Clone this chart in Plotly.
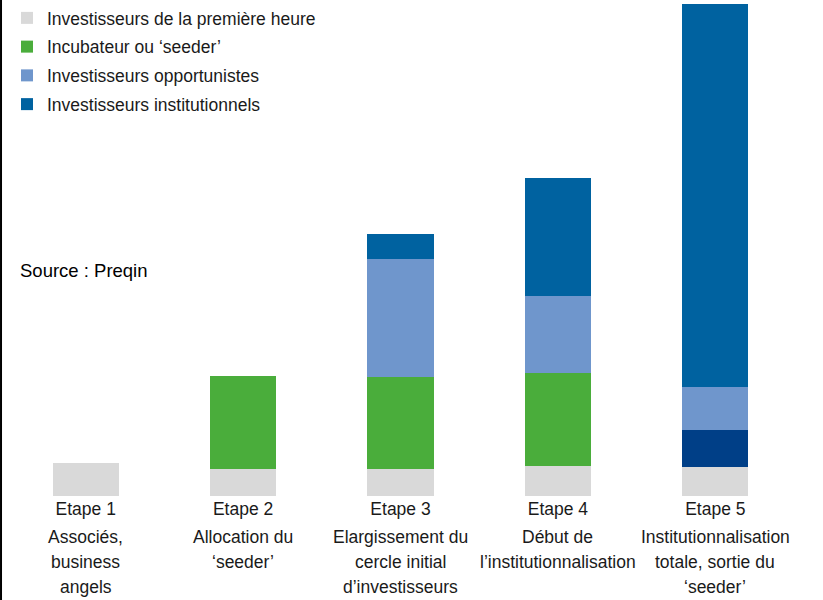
import plotly.graph_objects as go

# Data (arbitrary height units)
stages = ["Etape 1", "Etape 2", "Etape 3", "Etape 4", "Etape 5"]
descriptions = [
    ["Associés,", "business", "angels"],
    ["Allocation du", "‘seeder’"],
    ["Elargissement du", "cercle initial", "d’investisseurs"],
    ["Début de", "l’institutionnalisation"],
    ["Institutionnalisation", "totale, sortie du", "‘seeder’"],
]
premiere_heure = [3.3, 2.7, 2.7, 3.0, 2.9]
seeder_sortie = [0, 0, 0, 0, 3.7]
incubateur = [0, 9.3, 9.2, 9.3, 0]
opportunistes = [0, 0, 11.8, 7.7, 4.3]
institutionnels = [0, 0, 2.5, 11.8, 38.3]

NARROW = "Liberation Sans Narrow, Arial Narrow, Liberation Sans, sans-serif"
REGULAR = "Liberation Sans, Arial, sans-serif"
TXT = "#1a1a1a"

fig = go.Figure()

series = [
    ("Investisseurs de la première heure", premiere_heure, "#d9d9d9", True),
    ("Sortie du seeder", seeder_sortie, "#003f87", False),
    ("Incubateur ou ‘seeder’", incubateur, "#4aad3b", True),
    ("Investisseurs opportunistes", opportunistes, "#6f96cc", True),
    ("Investisseurs institutionnels", institutionnels, "#0062a0", True),
]
for name, vals, color, show in series:
    fig.add_trace(
        go.Bar(
            x=stages,
            y=vals,
            name=name,
            legendgroup=name,
            showlegend=show,
            marker=dict(color=color, line=dict(width=0)),
            hoverinfo="skip",
        )
    )

# Stage descriptions under the "Etape" labels, one line at a time
for stage, lines in zip(stages, descriptions):
    for i, line in enumerate(lines):
        fig.add_annotation(
            x=stage,
            y=-0.083,
            xref="x",
            yref="paper",
            yshift=-25 * i,
            text=line,
            showarrow=False,
            xanchor="center",
            yanchor="middle",
            font=dict(family=NARROW, size=17.5, color=TXT),
        )

fig.add_annotation(
    x=0.0135,
    y=0.4556,
    xref="paper",
    yref="paper",
    text="Source : Preqin",
    showarrow=False,
    xanchor="left",
    yanchor="middle",
    font=dict(family=REGULAR, size=18.5, color="#000000"),
)

# Thin black frame line on the left edge
fig.add_shape(
    type="line",
    xref="paper",
    yref="paper",
    x0=-0.0076,
    x1=-0.0076,
    y0=-0.22,
    y1=1.01,
    line=dict(color="#000000", width=2),
)

fig.update_layout(
    width=823,
    height=600,
    margin=dict(l=7, r=29, t=0, b=104),
    paper_bgcolor="white",
    plot_bgcolor="white",
    barmode="stack",
    bargap=0.58,
    showlegend=True,
    legend=dict(
        x=0.0,
        y=1.0,
        xanchor="left",
        yanchor="top",
        traceorder="grouped",
        tracegroupgap=3,
        font=dict(family=NARROW, size=17.5, color=TXT),
        bgcolor="rgba(0,0,0,0)",
    ),
    xaxis=dict(
        showgrid=False,
        zeroline=False,
        showline=False,
        ticks="",
        tickfont=dict(family=NARROW, size=17.5, color=TXT),
    ),
    yaxis=dict(
        range=[0, 49.6],
        showgrid=False,
        zeroline=False,
        showline=False,
        showticklabels=False,
    ),
)

fig.write_html(
    "out.html",
    config={"displayModeBar": False},
    post_script="document.body.style.margin='0';",
)
